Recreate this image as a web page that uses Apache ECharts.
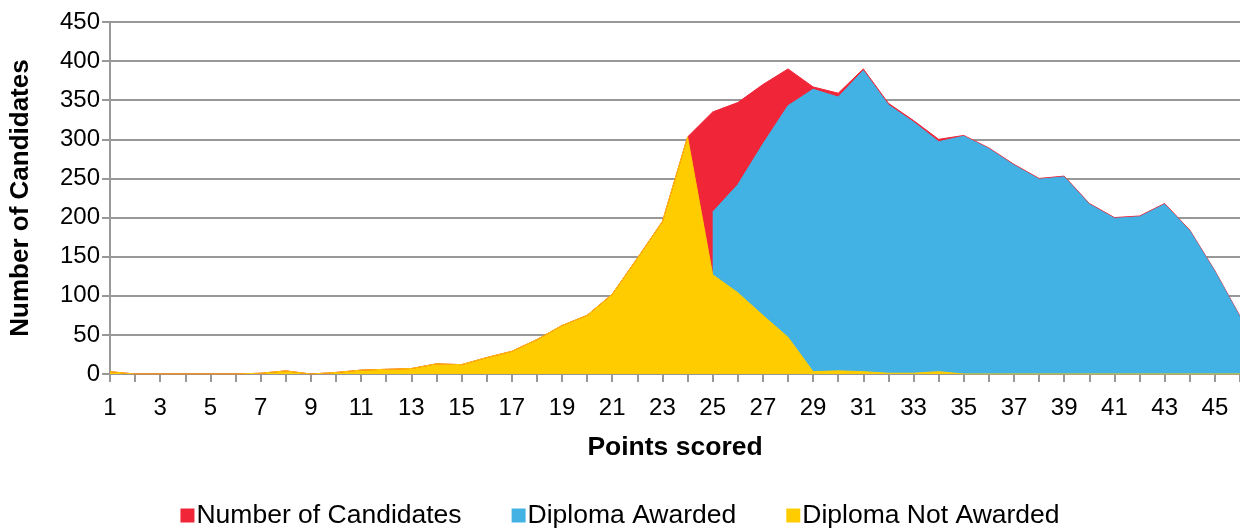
<!DOCTYPE html>
<html>
<head>
<meta charset="utf-8">
<title>Points scored</title>
<script src="https://cdn.jsdelivr.net/npm/echarts@6/dist/echarts.min.js"></script>
<style>
    html, body { margin: 0; padding: 0; background: #fff; }
    #chart { width: 1240px; height: 531px; }
</style>
</head>
<body>
<div id="chart"></div>
<script>
// 分数 1..46
let points = []
for (let i = 1; i <= 46; i++) {
    points.push(String(i))
}

// 总人数
let totalCandidates = [3, 0, 0, 0, 0, 0, 1, 4, 0, 2, 5, 6, 7, 13, 12, 21, 29, 44, 62, 75, 102, 148, 195, 303,
    335, 347, 370, 390, 367, 359, 390, 346, 324, 300, 305, 289, 268, 250, 253, 218, 200, 202, 218, 184, 132, 74]

// 获得文凭
let diplomaAwarded = [null, null, null, null, null, null, null, null, null, null, null, null, null, null, null, null,
    null, null, null, null, null, null, null, null,
    207, 242, 294, 343, 364, 354, 388, 344, 322, 297, 304, 288, 267, 249, 252, 217, 199, 201, 217, 183, 131, 73]

// 未获得文凭
let diplomaNotAwarded = [3, 0, 0, 0, 0, 0, 1, 4, 0, 2, 5, 6, 7, 13, 12, 21, 29, 44, 62, 75, 102, 148, 195, 303,
    127, 104, 75, 47, 3, 4, 3, 1, 1, 3, 0, 0, 0, 0, 0, 0, 0, 0, 0, 0, 0, 0]

let yTicks = {min: 0, max: 450, interval: 50}

const FONT = 'Liberation Sans, Arial, sans-serif'
const GRID_COLOR = '#989898'

/**
 * 生成一条面积序列
 * @param name 图例名
 * @param data 数据
 * @param color 颜色
 */
function areaSeries(name, data, color) {
    return {
        name: name,
        type: 'line',
        data: data,
        symbol: 'none',
        lineStyle: {color: color, width: 1},
        itemStyle: {color: color},
        areaStyle: {color: color, opacity: 1},
        emphasis: {disabled: true}
    }
}

let option = {
    animation: false,
    textStyle: {fontFamily: FONT, color: '#000'},
    grid: {left: 110, right: 0, top: 22, bottom: 157, containLabel: false},
    legend: {
        bottom: -3,
        left: 'center',
        icon: 'rect',
        itemWidth: 14,
        itemHeight: 14,
        itemGap: 50,
        textStyle: {fontSize: 26.5, color: '#000', fontFamily: FONT, padding: [0, 0, 0, -3]},
        data: ['Number of Candidates', 'Diploma Awarded', 'Diploma Not Awarded']
    },
    xAxis: {
        type: 'category',
        data: points,
        boundaryGap: false,
        name: 'Points scored',
        nameLocation: 'middle',
        nameGap: 60,
        nameTextStyle: {fontSize: 26.5, fontWeight: 'bold', color: '#000'},
        axisLine: {lineStyle: {color: GRID_COLOR, width: 2}},
        axisTick: {show: true, interval: 0, length: 8, lineStyle: {color: GRID_COLOR, width: 2}},
        axisLabel: {interval: 1, fontSize: 24, color: '#000', margin: 22},
        splitLine: {show: false}
    },
    yAxis: {
        type: 'value',
        min: yTicks.min,
        max: yTicks.max,
        interval: yTicks.interval,
        name: 'Number of Candidates',
        nameLocation: 'middle',
        nameGap: 76,
        nameTextStyle: {fontSize: 26, fontWeight: 'bold', color: '#000'},
        axisLine: {show: true, lineStyle: {color: GRID_COLOR, width: 2}},
        axisTick: {show: true, length: 8, lineStyle: {color: GRID_COLOR, width: 2}},
        axisLabel: {fontSize: 24, color: '#000', margin: 10},
        splitLine: {lineStyle: {color: GRID_COLOR, width: 2}}
    },
    series: [
        areaSeries('Number of Candidates', totalCandidates, '#F02537'),
        areaSeries('Diploma Awarded', diplomaAwarded, '#42B2E4'),
        areaSeries('Diploma Not Awarded', diplomaNotAwarded, '#FFCC00')
    ]
}

function initChart(id, data) {
    let chart = echarts.init(document.getElementById(id), null, {renderer: 'canvas'})
    chart.setOption(data)
}

initChart('chart', option)
</script>
</body>
</html>
